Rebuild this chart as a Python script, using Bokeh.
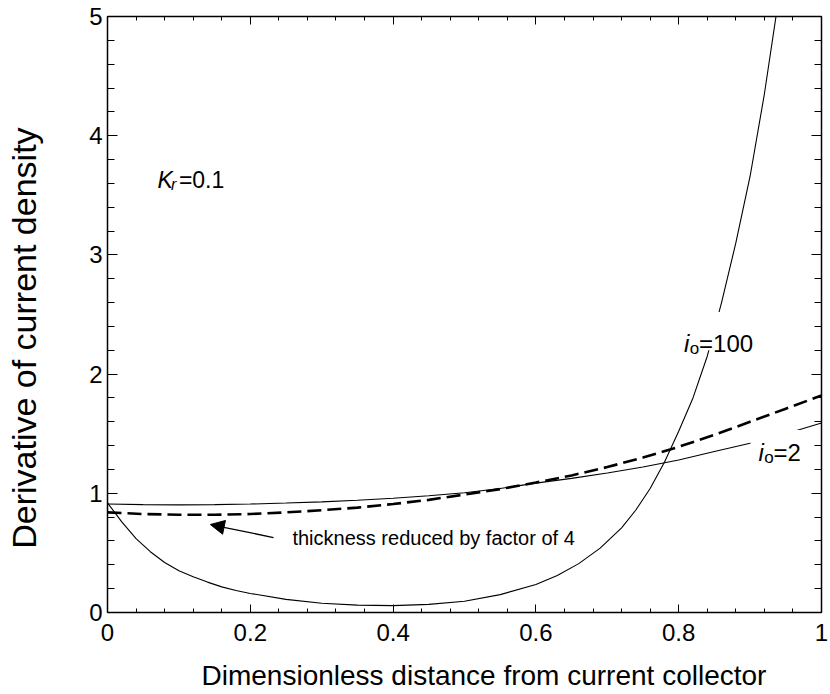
import numpy as np
from bokeh.plotting import figure
from bokeh.models import (LinearAxis, FixedTicker, Range1d, Label, Arrow,
                          NormalHead, BoxAnnotation, CustomJSTickFormatter)
from bokeh.embed import file_html
from bokeh.resources import INLINE

# ---------------- data ----------------
x_io2 = [0.0, 0.05, 0.1, 0.15, 0.2, 0.25, 0.3, 0.35, 0.4, 0.45, 0.5,
         0.55, 0.6, 0.65, 0.7, 0.75, 0.8, 0.85, 0.9, 0.95, 1.0]
y_io2 = [0.91, 0.905, 0.903, 0.905, 0.91, 0.918, 0.928, 0.942, 0.958, 0.98, 1.005,
         1.04, 1.085, 1.125, 1.17, 1.22, 1.28, 1.35, 1.42, 1.50, 1.59]

x_thin4 = [0.0, 0.05, 0.1, 0.15, 0.2, 0.25, 0.3, 0.35, 0.4, 0.45, 0.5,
           0.55, 0.6, 0.65, 0.7, 0.75, 0.8, 0.85, 0.9, 0.95, 1.0]
y_thin4 = [0.84, 0.826, 0.82, 0.82, 0.826, 0.84, 0.858, 0.88, 0.91, 0.945, 0.99,
           1.035, 1.09, 1.15, 1.22, 1.30, 1.39, 1.49, 1.60, 1.71, 1.82]

x_io100 = [0.0, 0.02, 0.04, 0.06, 0.08, 0.10, 0.12, 0.14, 0.16, 0.18, 0.20,
           0.25, 0.30, 0.35, 0.40, 0.45, 0.50, 0.55, 0.60, 0.63, 0.66, 0.69,
           0.72, 0.74, 0.76, 0.78, 0.80, 0.82, 0.84, 0.86, 0.88, 0.90, 0.92, 0.94]
y_io100 = [0.92, 0.76, 0.62, 0.51, 0.42, 0.35, 0.30, 0.255, 0.215, 0.185, 0.16,
           0.11, 0.078, 0.062, 0.058, 0.068, 0.095, 0.15, 0.235, 0.31, 0.41, 0.54,
           0.71, 0.86, 1.04, 1.26, 1.52, 1.80, 2.15, 2.60, 3.10, 3.66, 4.35, 5.15]

x_ticks = [0, 0.2, 0.4, 0.6, 0.8, 1]
x_tick_labels = ["0", "0.2", "0.4", "0.6", "0.8", "1"]
y_ticks = [0, 1, 2, 3, 4, 5]
y_tick_labels = ["0", "1", "2", "3", "4", "5"]

x_title = "Dimensionless distance from current collector"
y_title = "Derivative of current density"

FONT = "Liberation Sans"
NBSP = "\u00a0"

# ---------------- figure ----------------
p = figure(width=830, height=694, x_range=Range1d(0, 1), y_range=Range1d(0, 5),
           output_backend="svg", toolbar_location=None,
           min_border_left=107, min_border_right=9, min_border_top=16,
           min_border_bottom=82)
p.outline_line_color = None
p.xgrid.visible = False
p.ygrid.visible = False
p.background_fill_color = "white"
p.border_fill_color = "white"

x_minor = list(np.round(np.arange(0, 1.0001, 0.04), 4))
y_minor = list(np.round(np.arange(0, 5.0001, 0.2), 4))
xt = FixedTicker(ticks=x_ticks, minor_ticks=x_minor)
yt = FixedTicker(ticks=y_ticks, minor_ticks=y_minor)


def style_axis(ax, major_in, minor_in):
    ax.axis_line_color = "black"
    ax.axis_line_width = 1.5
    ax.major_tick_line_color = "black"
    ax.minor_tick_line_color = "black"
    ax.major_tick_out = 0
    ax.minor_tick_out = 0
    ax.major_tick_in = major_in
    ax.minor_tick_in = minor_in
    ax.major_label_text_font = FONT
    ax.major_label_text_color = "black"
    ax.axis_label_text_font = FONT
    ax.axis_label_text_font_style = "normal"
    ax.axis_label_text_color = "black"


xa = p.xaxis[0]
xa.ticker = xt
xa.major_label_overrides = {v: s for v, s in zip(x_ticks, x_tick_labels)}
style_axis(xa, 8, 4)
xa.major_label_text_font_size = "24px"
xa.major_label_standoff = 11
# the reference title sits a little right of centre: pad its start
xa.axis_label = NBSP * 5 + x_title
xa.axis_label_text_font_size = "28px"
xa.axis_label_standoff = 16

ya = p.yaxis[0]
ya.ticker = yt
ya.major_label_overrides = {v: s for v, s in zip(y_ticks, y_tick_labels)}
style_axis(ya, 10, 7)
ya.major_label_text_font_size = "24px"
ya.major_label_standoff = 5
# the reference title sits a little below centre: pad its end
ya.axis_label = y_title + NBSP * 5
ya.axis_label_text_font_size = "34px"
ya.axis_label_standoff = 43

blank = CustomJSTickFormatter(code="return ''")
ra = LinearAxis(ticker=FixedTicker(ticks=y_ticks, minor_ticks=y_minor), formatter=blank)
style_axis(ra, 10, 7)
ra.major_label_text_font_size = "0px"
ra.major_label_standoff = 0
p.add_layout(ra, "right")

ta = LinearAxis(ticker=FixedTicker(ticks=x_ticks, minor_ticks=x_minor), formatter=blank)
style_axis(ta, 8, 4)
ta.major_label_text_font_size = "0px"
ta.major_label_standoff = 0
p.add_layout(ta, "above")

# ---------------- curves ----------------
p.line(x_io2, y_io2, line_color="black", line_width=1.1)
p.line(x_io100, y_io100, line_color="black", line_width=1.1)
p.line(x_thin4, y_thin4, line_color="black", line_width=2.6, line_dash="14 6")

# ---------------- annotations ----------------
# white boxes behind the curve labels
p.add_layout(BoxAnnotation(left=0.806, right=0.915, bottom=2.20, top=2.52,
                           fill_color="white", fill_alpha=1.0, line_color=None))
p.add_layout(BoxAnnotation(left=0.9006, right=0.972, bottom=1.29, top=1.53,
                           fill_color="white", fill_alpha=1.0, line_color=None))


def lab(x, y, text, size, style="normal"):
    p.add_layout(Label(x=x, y=y, text=text, text_font=FONT, text_font_size=size,
                       text_font_style=style, text_color="black",
                       text_align="left", text_baseline="alphabetic"))


# K_r = 0.1
lab(0.070, 3.63, "K", "23px", "italic")
lab(0.089, 3.59, "r", "16px", "italic")
lab(0.100, 3.63, "=0.1", "23px")

# i_o = 100
lab(0.8075, 2.257, "i", "24px", "italic")
lab(0.8155, 2.215, "o", "17px")
lab(0.8285, 2.257, "=100", "24px")

# i_o = 2
lab(0.9118, 1.342, "i", "24px", "italic")
lab(0.9198, 1.300, "o", "17px")
lab(0.9328, 1.342, "=2", "24px")

# arrow + note
p.add_layout(Arrow(end=NormalHead(size=14, fill_color="black", line_color="black"),
                   x_start=0.2325, y_start=0.629, x_end=0.144, y_end=0.738,
                   line_color="black", line_width=1.3))
p.add_layout(Label(x=0.259, y=0.629, text="thickness reduced by factor of 4",
                   text_font=FONT, text_font_size="20px", text_color="black",
                   text_align="left", text_baseline="middle"))

open("out.html", "w").write(file_html(p, INLINE))
